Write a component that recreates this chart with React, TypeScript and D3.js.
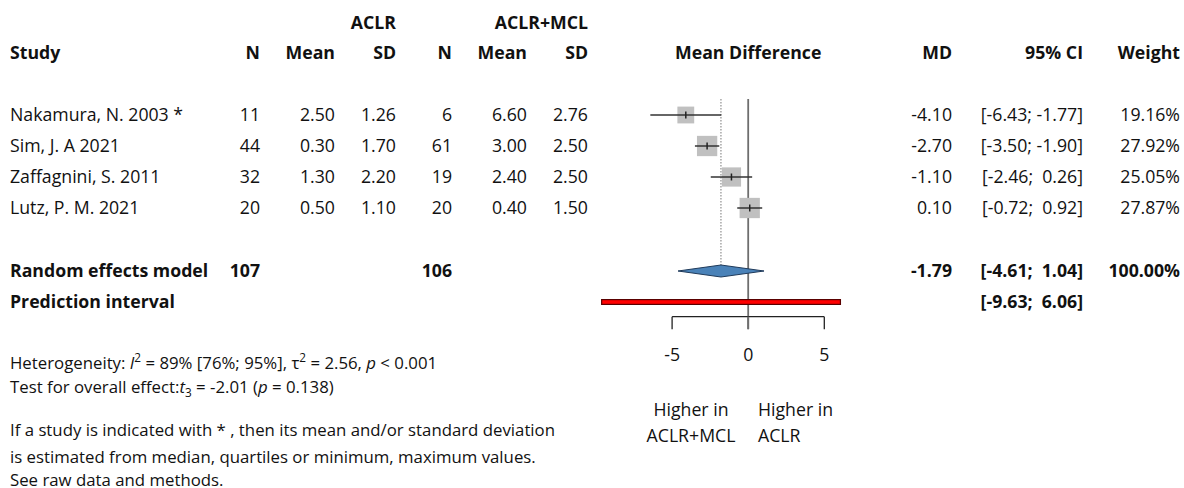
import React from "react";
import * as d3 from "d3";

const studies = ["Nakamura, N. 2003 *", "Sim, J. A 2021", "Zaffagnini, S. 2011", "Lutz, P. M. 2021"];
const nACLR = [11, 44, 32, 20];
const meanACLR = [2.5, 0.3, 1.3, 0.5];
const sdACLR = [1.26, 1.7, 2.2, 1.1];
const nMCL = [6, 61, 19, 20];
const meanMCL = [6.6, 3.0, 2.4, 0.4];
const sdMCL = [2.76, 2.5, 2.5, 1.5];
const md = [-4.1, -2.7, -1.1, 0.1];
const ciLower = [-6.43, -3.5, -2.46, -0.72];
const ciUpper = [-1.77, -1.9, 0.26, 0.92];
const weights = [19.16, 27.92, 25.05, 27.87];

const pooledMD = -1.79;
const pooledCI = [-4.61, 1.04];
const predInterval = [-9.63, 6.06];
const totalACLR = 107;
const totalMCL = 106;
const tickValues = [-5, 0, 5];

const FONT = "'Open Sans', sans-serif";
const FS = 17.7;
const FSF = 16.8;

const f2 = (v: number) => v.toFixed(2);
const ciText = (l: number, u: number) =>
  `[${l < 0 ? "" : " "}${f2(l)}; ${u < 0 ? "" : " "}${f2(u)}]`;

export default function App() {
  const W = 1184, H = 488;
  const x = d3.scaleLinear().domain([-5, 5]).range([672.1, 824.3]);
  const rowY = d3.scalePoint<number>().domain(d3.range(studies.length)).range([115, 208]);
  const size = d3.scaleSqrt().domain([0, d3.max(weights) as number]).range([0, 20.3]);

  const col = { study: 10, n1: 260, mean1: 335, sd1: 396, n2: 452, mean2: 527, sd2: 588, md: 952, ci: 1083, w: 1180 };
  const yH1 = 23, yH2 = 53, yRE = 271, yPI = 302, yAxis = 316.7;
  const bl = 6.3;

  const T = (props: any) => (
    <text fontFamily={FONT} fontSize={FS} fill="#111" style={{ whiteSpace: "pre" }} {...props} />
  );

  const rows = studies.map((s, i) => {
    const y = rowY(i) as number;
    return (
      <g key={s}>
        <T x={col.study} y={y + bl}>{s}</T>
        <T x={col.n1} y={y + bl} textAnchor="end">{nACLR[i]}</T>
        <T x={col.mean1} y={y + bl} textAnchor="end">{f2(meanACLR[i])}</T>
        <T x={col.sd1} y={y + bl} textAnchor="end">{f2(sdACLR[i])}</T>
        <T x={col.n2} y={y + bl} textAnchor="end">{nMCL[i]}</T>
        <T x={col.mean2} y={y + bl} textAnchor="end">{f2(meanMCL[i])}</T>
        <T x={col.sd2} y={y + bl} textAnchor="end">{f2(sdMCL[i])}</T>
        <T x={col.md} y={y + bl} textAnchor="end">{f2(md[i])}</T>
        <T x={col.ci} y={y + bl} textAnchor="end">{ciText(ciLower[i], ciUpper[i])}</T>
        <T x={col.w} y={y + bl} textAnchor="end">{f2(weights[i]) + "%"}</T>
      </g>
    );
  });

  const marks = studies.map((s, i) => {
    const y = rowY(i) as number;
    const sz = size(weights[i]);
    return (
      <g key={"m" + s}>
        <rect x={x(md[i]) - sz / 2} y={y - sz / 2} width={sz} height={sz} fill="#c0c0c0" />
        <line x1={x(ciLower[i])} x2={x(ciUpper[i])} y1={y} y2={y} stroke="#333" strokeWidth={1.5} />
        <line x1={x(md[i])} x2={x(md[i])} y1={y - 3.5} y2={y + 3.5} stroke="#222" strokeWidth={1.5} />
      </g>
    );
  });

  const dH = 6;
  const diamond = [
    [x(pooledCI[0]), yRE],
    [x(pooledMD), yRE - dH],
    [x(pooledCI[1]), yRE],
    [x(pooledMD), yRE + dH],
  ].map((p) => p.join(",")).join(" ");

  return (
    <svg width={W} height={H} style={{ position: "absolute", left: 0, top: 0, background: "#fff" }}>
      <rect width={W} height={H} fill="#fff" />
      <g>
        <T x={col.sd1} y={yH1 + bl} textAnchor="end" fontWeight="bold">ACLR</T>
        <T x={col.sd2} y={yH1 + bl} textAnchor="end" fontWeight="bold">ACLR+MCL</T>
        <T x={col.study} y={yH2 + bl} fontWeight="bold">Study</T>
        <T x={col.n1} y={yH2 + bl} textAnchor="end" fontWeight="bold">N</T>
        <T x={col.mean1} y={yH2 + bl} textAnchor="end" fontWeight="bold">Mean</T>
        <T x={col.sd1} y={yH2 + bl} textAnchor="end" fontWeight="bold">SD</T>
        <T x={col.n2} y={yH2 + bl} textAnchor="end" fontWeight="bold">N</T>
        <T x={col.mean2} y={yH2 + bl} textAnchor="end" fontWeight="bold">Mean</T>
        <T x={col.sd2} y={yH2 + bl} textAnchor="end" fontWeight="bold">SD</T>
        <T x={x(0)} y={yH2 + bl} textAnchor="middle" fontWeight="bold">Mean Difference</T>
        <T x={col.md} y={yH2 + bl} textAnchor="end" fontWeight="bold">MD</T>
        <T x={col.ci} y={yH2 + bl} textAnchor="end" fontWeight="bold">95% CI</T>
        <T x={col.w} y={yH2 + bl} textAnchor="end" fontWeight="bold">Weight</T>
      </g>

      {rows}

      <T x={col.study} y={yRE + bl} fontWeight="bold">Random effects model</T>
      <T x={col.n1} y={yRE + bl} textAnchor="end" fontWeight="bold">{totalACLR}</T>
      <T x={col.n2} y={yRE + bl} textAnchor="end" fontWeight="bold">{totalMCL}</T>
      <T x={col.md} y={yRE + bl} textAnchor="end" fontWeight="bold">{f2(pooledMD)}</T>
      <T x={col.ci} y={yRE + bl} textAnchor="end" fontWeight="bold">{ciText(pooledCI[0], pooledCI[1])}</T>
      <T x={col.w} y={yRE + bl} textAnchor="end" fontWeight="bold">100.00%</T>
      <T x={col.study} y={yPI + bl} fontWeight="bold">Prediction interval</T>
      <T x={col.ci} y={yPI + bl} textAnchor="end" fontWeight="bold">{ciText(predInterval[0], predInterval[1])}</T>

      <line x1={x(pooledMD)} x2={x(pooledMD)} y1={99} y2={yRE - dH} stroke="#777" strokeWidth={1} strokeDasharray="1.5,1.5" />
      <line x1={x(0)} x2={x(0)} y1={99} y2={yAxis + 12.5} stroke="#6e6e6e" strokeWidth={1.8} />

      {marks}

      <polygon points={diamond} fill="#4a82b8" stroke="#1f3a5a" strokeWidth={1} />
      <rect x={x(predInterval[0])} y={yPI - 2.4} width={x(predInterval[1]) - x(predInterval[0])} height={4.8} fill="#ff0000" stroke="#5a0000" strokeWidth={1.2} />

      <line x1={x(tickValues[0])} x2={x(tickValues[tickValues.length - 1])} y1={yAxis} y2={yAxis} stroke="#222" strokeWidth={1.3} />
      {tickValues.map((t) => (
        <g key={"t" + t}>
          <line x1={x(t)} x2={x(t)} y1={yAxis} y2={yAxis + 12.5} stroke={t === 0 ? "#6e6e6e" : "#222"} strokeWidth={t === 0 ? 1.8 : 1.3} />
          <T x={x(t)} y={355 + bl} textAnchor="middle">{String(t)}</T>
        </g>
      ))}
      <T x={691} y={410 + bl} textAnchor="middle">Higher in</T>
      <T x={691} y={436 + bl} textAnchor="middle">ACLR+MCL</T>
      <T x={758} y={410 + bl}>Higher in</T>
      <T x={758} y={436 + bl}>ACLR</T>

      <T x={col.study} y={363 + bl} fontSize={FSF}>
        Heterogeneity: <tspan fontStyle="italic">I</tspan>
        <tspan dy={-7} fontSize={FSF * 0.7}>2</tspan>
        <tspan dy={7}> = 89% [76%; 95%], τ</tspan>
        <tspan dy={-7} fontSize={FSF * 0.7}>2</tspan>
        <tspan dy={7}> = 2.56, </tspan>
        <tspan fontStyle="italic">p</tspan> {"< 0.001"}
      </T>
      <T x={col.study} y={387 + bl} fontSize={FSF}>
        Test for overall effect:<tspan fontStyle="italic">t</tspan>
        <tspan dy={4} fontSize={FSF * 0.7}>3</tspan>
        <tspan dy={-4}> = -2.01 (</tspan>
        <tspan fontStyle="italic">p</tspan> = 0.138)
      </T>
      <T x={col.study} y={430 + bl} fontSize={FSF}>If a study is indicated with * , then its mean and/or standard deviation</T>
      <T x={col.study} y={457 + bl} fontSize={FSF}>is estimated from median, quartiles or minimum, maximum values.</T>
      <T x={col.study} y={480 + bl} fontSize={FSF}>See raw data and methods.</T>
    </svg>
  );
}
